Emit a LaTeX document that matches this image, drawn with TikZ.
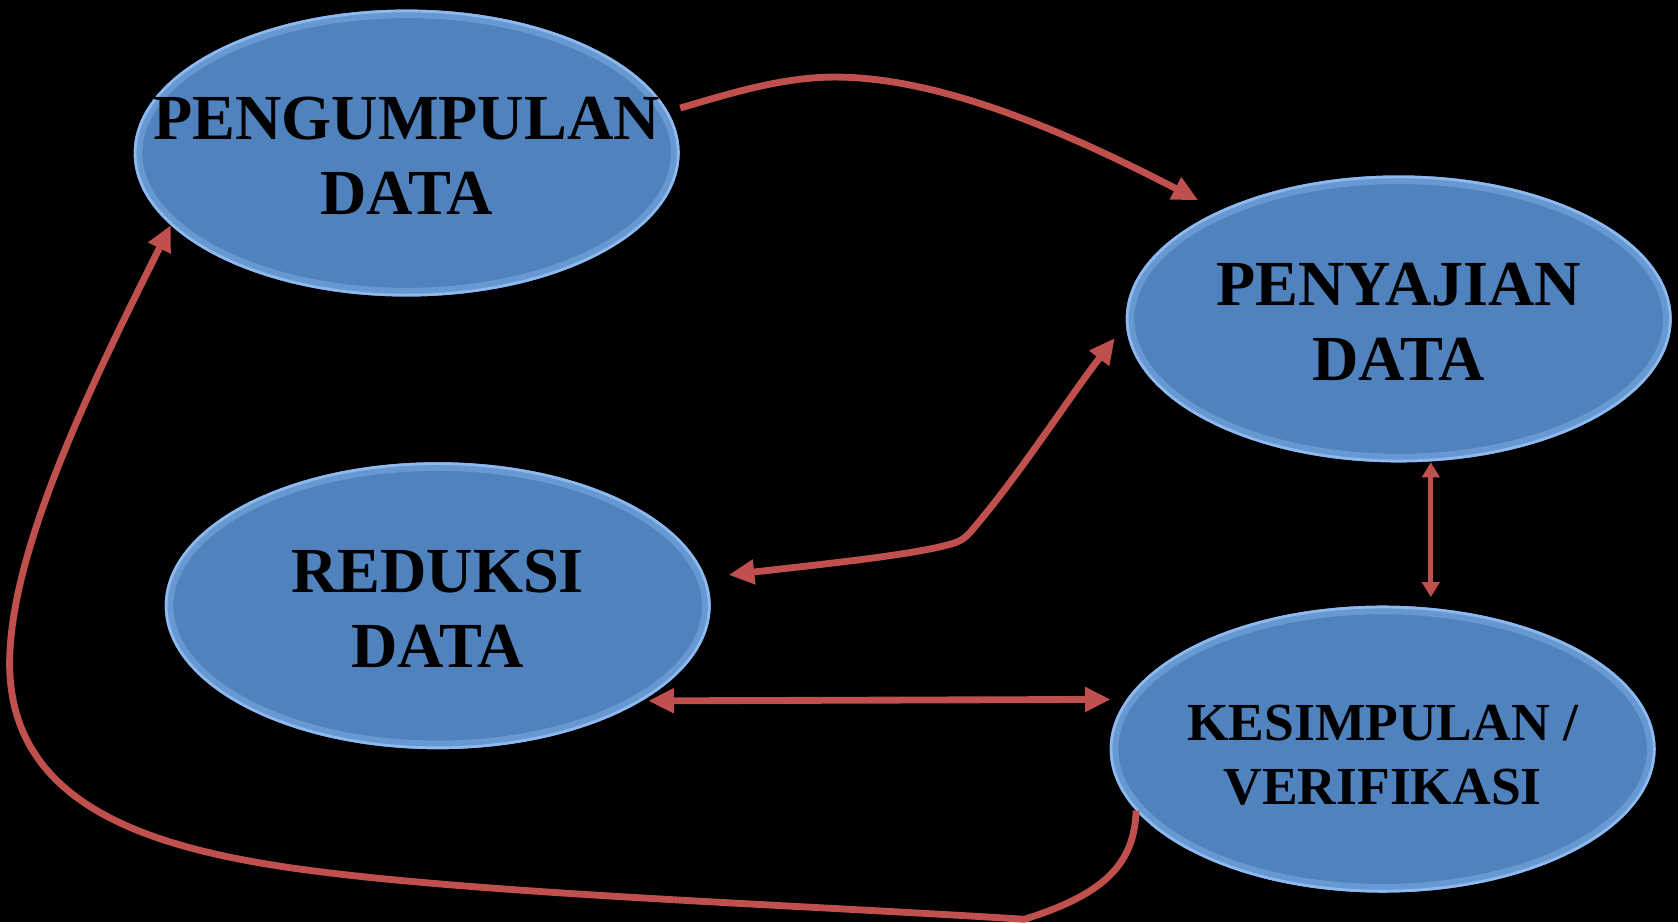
\documentclass[tikz,border=0pt]{standalone}
\usepackage{fontspec}
\setmainfont{Liberation Serif}
\usetikzlibrary{shapes.geometric,arrows.meta,calc}
\definecolor{bluefill}{HTML}{5082BE}
\definecolor{bluerim}{HTML}{8DB9EE}
\definecolor{arrowred}{HTML}{C0504D}
\begin{document}
\begin{tikzpicture}[x=0.5pt,y=-0.5pt,
  blob/.style={ellipse, inner sep=0pt, outer sep=0pt,
    minimum width=255pt, minimum height=134pt, fill=bluefill,
    path picture={
      \draw[bluerim!40!bluefill, line width=8pt] (path picture bounding box.center) ellipse [x radius=127.5pt, y radius=67pt];
      \draw[bluerim, line width=2.5pt] (path picture bounding box.center) ellipse [x radius=127.5pt, y radius=67pt];
    }},
  lbl/.style={font=\bfseries\fontsize{30pt}{35pt}\selectfont, align=center, text=black, inner sep=0pt},
  lblsmall/.style={font=\bfseries\fontsize{25pt}{30pt}\selectfont, align=center, text=black, inner sep=0pt},
  conn/.style={draw=arrowred, line width=3.2pt, -{Triangle[length=12pt,width=11pt]}},
  connboth/.style={draw=arrowred, line width=3.2pt, {Triangle[length=12pt,width=11pt]}-{Triangle[length=12pt,width=11pt]}},
  connthin/.style={draw=arrowred, line width=2.2pt, {Triangle[length=7pt,width=8pt]}-{Triangle[length=7pt,width=8pt]}}
]
\fill[black] (0,0) rectangle (1568,862);
\useasboundingbox (0,0) rectangle (1568,862);

\node[blob] (P) at (380,143) {};
\node[lbl] (Pt) at ([yshift=-1.5pt]P.center) {PENGUMPULAN\\DATA};
\node[blob] (S) at (1307,298) {};
\node[lbl] (St) at ([yshift=-1.5pt]S.center) {PENYAJIAN\\DATA};
\node[blob] (R) at (409,566) {};
\node[lbl] (Rt) at ([yshift=-1.5pt]R.center) {REDUKSI\\DATA};
\node[blob] (K) at (1292,700) {};
\node[lblsmall] (Kt) at ([yshift=-3pt]K.center) {KESIMPULAN /\\VERIFIKASI};

% Pengumpulan -> Penyajian
\draw[conn, shorten <=6pt, shorten >=11pt] (P.9) .. controls (680,88) and (730,72) .. (780,72)
  .. controls (880,72) and (1000,125) .. (S.149.7);

% Reduksi <-> Penyajian
\draw[connboth, shorten <=11pt, shorten >=8.5pt] (R.6.1) .. controls (770,527) and (860,518) .. (893,507)
  .. controls (903,503) and (906,498) .. (912,491)
  .. controls (955,440) and (1000,370) .. (S.181.5);

% Penyajian <-> Kesimpulan
\draw[connthin, shorten >=4pt] ([xshift=15pt]S.south) -- ([xshift=22.5pt]K.north);

% Reduksi <-> Kesimpulan
\draw[connboth, shorten <=3pt, shorten >=7.5pt] (R.-25.1) -- (K.169.4);

% Kesimpulan -> Pengumpulan (loop)
\draw[conn] (K.194) .. controls (1060,805) and (1035,835) .. (957,859)
  .. controls (750,846) and (500,837) .. (328,818)
  .. controls (165,800) and (8,765) .. (9,618)
  .. controls (10,510) and (90,350) .. (P.197.6);
\end{tikzpicture}
\end{document}
